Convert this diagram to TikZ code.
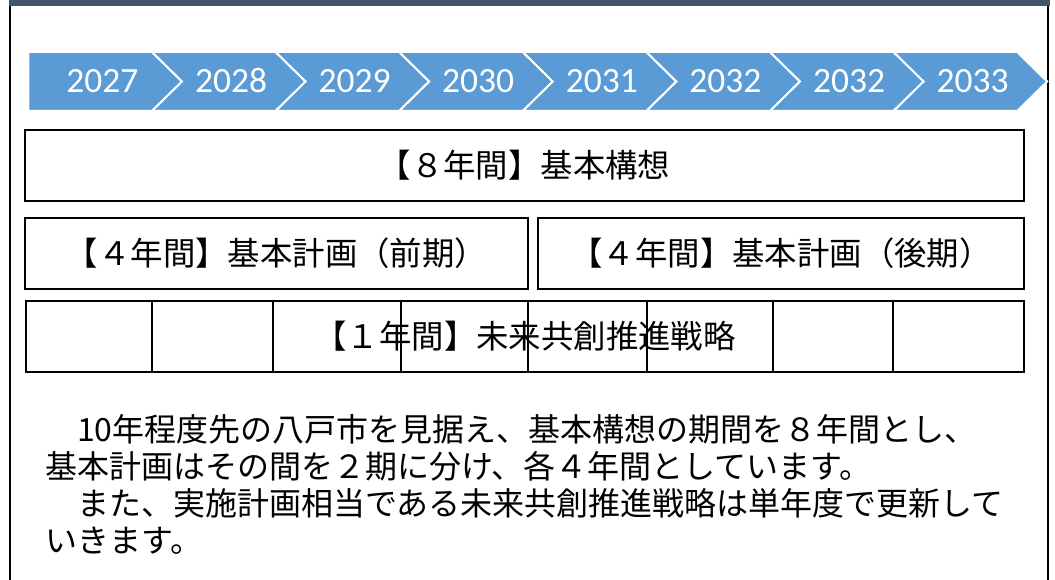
\documentclass[tikz,border=0pt]{standalone}
\usepackage{fontspec}
\setmainfont{Noto Sans CJK JP}
\newfontfamily\yearfont{Carlito}
\definecolor{chevblue}{HTML}{5B9BD5}
\definecolor{topbar}{HTML}{44546A}
\tikzset{
  plan/.style={draw, line width=2.4pt, inner sep=0pt, font=\fontsize{32.4}{36}\selectfont},
  year/.style={text=white, inner sep=0pt, font=\yearfont\fontsize{35.5}{40}\selectfont},
  para/.style={anchor=base west, inner sep=0pt, font=\fontsize{32}{37}\selectfont},
}
\begin{document}
\begin{tikzpicture}[x=1pt, y=-1pt]
        \useasboundingbox (0,0) rectangle (1055,580);

        % frame
        \fill[topbar] (9,0) rectangle (1050,6);
        \draw[line width=2.5pt] (10,6) -- (10,580);
        \draw[line width=2.5pt] (1048,6) -- (1048,580);

        % years
        \foreach \yr [count=\i from 0] in {2027,2028,2029,2030,2031,2032,2032,2033} {
            \pgfmathsetmacro\xl{28.4+123.6*\i}
            \pgfmathsetmacro\nt{\i>0 ? 30 : 0}
            \pgfmathsetmacro\xc{\xl+(\i>0 ? 79 : 74)}
            \filldraw[fill=chevblue, draw=white, line width=2pt]
                (\xl,52) -- (\xl+123.6,52) -- (\xl+153.6,81.5) -- (\xl+123.6,111)
                -- (\xl,111) -- (\xl+\nt,81.5) -- cycle;
            \node[year] (y\i) at (\xc,81) {\yr};
        }

        \node[plan, minimum width=999pt, minimum height=71pt] (vision) at (524.5,165.5) {【８年間】基本構想};

        \node[plan, minimum width=503pt, minimum height=71pt] (early) at (276.5,253.5) {【４年間】基本計画（前期）};
        \node[plan, minimum width=486pt, minimum height=71pt] (late) at (781,253.5) {【４年間】基本計画（後期）};

        \node[plan, minimum width=998pt, minimum height=71pt] (strategy) at (525,336.5) {【１年間】未来共創推進戦略};
        \foreach \x in {152,273,401,528,647,773,893}
            \draw[line width=1.2pt] (\x,0 |- strategy.north) -- (\x,0 |- strategy.south);

        \node[para] (p1) at (45,441) {　10年程度先の八戸市を見据え、基本構想の期間を８年間とし、};
        \node[para] (p2) at (45,478) {基本計画はその間を２期に分け、各４年間としています。};
        \node[para] (p3) at (45,515) {　また、実施計画相当である未来共創推進戦略は単年度で更新して};
        \node[para] (p4) at (45,552) {いきます。};
    \end{tikzpicture}
\end{document}
